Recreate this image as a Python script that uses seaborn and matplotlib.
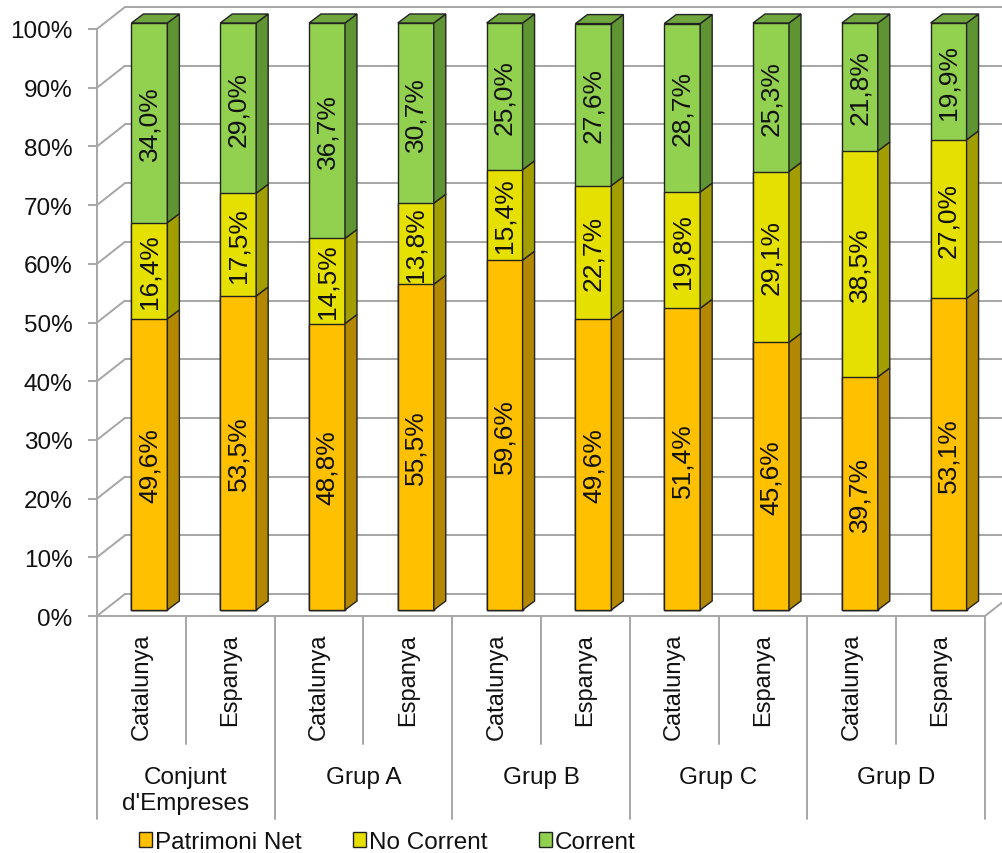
import matplotlib
matplotlib.use("Agg")
import matplotlib.pyplot as plt
import matplotlib.transforms as mtransforms
from matplotlib.patches import Polygon, Patch
from matplotlib.lines import Line2D
import numpy as np
import pandas as pd
import seaborn as sns

# ---- data -------------------------------------------------------------
groups = ["Conjunt\nd'Empreses", "Grup A", "Grup B", "Grup C", "Grup D"]
regions = ["Catalunya", "Espanya"]
patrimoni_net = [49.6, 53.5, 48.8, 55.5, 59.6, 49.6, 51.4, 45.6, 39.7, 53.1]
no_corrent = [16.4, 17.5, 14.5, 13.8, 15.4, 22.7, 19.8, 29.1, 38.5, 27.0]
corrent = [34.0, 29.0, 36.7, 30.7, 25.0, 27.6, 28.7, 25.3, 21.8, 19.9]
series_names = ["Patrimoni Net", "No Corrent", "Corrent"]
y_ticks = [0, 10, 20, 30, 40, 50, 60, 70, 80, 90, 100]

# ---- style ------------------------------------------------------------
sns.set_theme(style="white")
plt.rcParams["font.family"] = ["Liberation Sans", "DejaVu Sans"]

front_cols = ["#FFC000", "#E6E000", "#92D050"]
side_cols = ["#B38700", "#A39E00", "#5E9432"]
top_col = "#6FA63E"
edge = "#222222"
grid_col = "#A6A6A6"
txt_col = "#111111"

W, H = 1003, 854
fig = plt.figure(figsize=(W / 100, H / 100), dpi=100)


def fx(px):
    return px / W


def fy(py):
    return 1 - py / H


# front plane of the 3-D box
left_px, right_px, top_px, bot_px = 97, 985, 30, 617
ax = fig.add_axes([fx(left_px), fy(bot_px), (right_px - left_px) / W, (bot_px - top_px) / H])

n = len(patrimoni_net)
ppx = (right_px - left_px) / n        # pixels per category
ppy = (bot_px - top_px) / 1.0         # pixels per unit (100%)


def du(px):
    return px / ppx


def dv(px):
    return px / ppy


# depth offsets (pixels): back wall, bar plane, bar thickness
back_dx, back_dy = 28, 22
bar_dx, bar_dy = 8, 6
depth_dx, depth_dy = 12, 9

labels_x = [f"{g}|{r}" for g in groups for r in regions]
p = np.array(patrimoni_net) / 100
nc = np.array(no_corrent) / 100
c = np.array(corrent) / 100
df = pd.DataFrame({
    "bar": labels_x,
    "cum1": p,
    "cum2": p + nc,
    "cum3": p + nc + c,
})

bar_w = 0.405
# stacked bars drawn as overlapping cumulative totals
for col, colr in zip(["cum3", "cum2", "cum1"], front_cols[::-1]):
    sns.barplot(data=df, x="bar", y=col, color=colr, saturation=1, width=bar_w,
                edgecolor=edge, linewidth=1.0, errorbar=None, ax=ax, zorder=3)

ax.set_xlim(-0.5, n - 0.5)
ax.set_ylim(0, 1)

green_patches = list(ax.patches[:n])
for patch in ax.patches:
    patch.set_x(patch.get_x() + du(bar_dx))
    patch.set_y(patch.get_y() + dv(bar_dy))
    patch.set_clip_on(False)

# side and top faces of each bar
segments = [(np.zeros(n), p), (p, p + nc), (p + nc, p + nc + c)]
for i, gp in enumerate(green_patches):
    xl = gp.get_x()
    xr = xl + gp.get_width()
    b = gp.get_y()
    for (lo, hi), sc in zip(segments, side_cols):
        poly = Polygon([(xr, b + lo[i]), (xr + du(depth_dx), b + lo[i] + dv(depth_dy)),
                        (xr + du(depth_dx), b + hi[i] + dv(depth_dy)), (xr, b + hi[i])],
                       closed=True, facecolor=sc, edgecolor=edge, linewidth=1.0,
                       zorder=3, clip_on=False)
        ax.add_patch(poly)
    t = b + segments[2][1][i]
    top = Polygon([(xl, t), (xr, t), (xr + du(depth_dx), t + dv(depth_dy)),
                   (xl + du(depth_dx), t + dv(depth_dy))],
                  closed=True, facecolor=top_col, edgecolor=edge, linewidth=1.0,
                  zorder=3, clip_on=False)
    ax.add_patch(top)
    # value labels
    xc = xl + gp.get_width() / 2
    for (lo, hi), vals in zip(segments, [patrimoni_net, no_corrent, corrent]):
        txt = f"{vals[i]:.1f}".replace(".", ",") + "%"
        ax.text(xc, b + (lo[i] + hi[i]) / 2, txt, rotation=90, ha="center", va="center",
                fontsize=19, color=txt_col, zorder=5, clip_on=False)

# back wall gridlines, left wall and floor
for v in y_ticks:
    yv = v / 100
    ax.plot([-0.5 + du(back_dx), n - 0.5 + du(back_dx)], [yv + dv(back_dy)] * 2,
            color=grid_col, lw=1.4, zorder=0.5, clip_on=False)
    ax.plot([-0.5, -0.5 + du(back_dx)], [yv, yv + dv(back_dy)],
            color=grid_col, lw=1.4, zorder=0.5, clip_on=False)
ax.plot([n - 0.5, n - 0.5 + du(back_dx)], [0, dv(back_dy)],
        color=grid_col, lw=1.4, zorder=0.5, clip_on=False)

# axes styling
for s in ["top", "right"]:
    ax.spines[s].set_visible(False)
for s in ["left", "bottom"]:
    ax.spines[s].set_color(grid_col)
    ax.spines[s].set_linewidth(1.4)
ax.set_yticks([v / 100 for v in y_ticks])
ax.set_yticklabels([f"{v}%" for v in y_ticks])
ax.tick_params(axis="y", length=6.5, width=1.4, color=grid_col, labelsize=17.5,
               labelcolor=txt_col, pad=11, left=True)
ax.set_xticks(range(n))
ax.set_xticklabels(regions * len(groups), rotation=90, va="top", ha="center")
ax.tick_params(axis="x", length=0, labelsize=17, labelcolor=txt_col, pad=12)
ax.set_xlabel("")
ax.set_ylabel("")

# category dividers and group labels below the floor
blend = mtransforms.blended_transform_factory(ax.transData, fig.transFigure)
for g in range(len(groups) + 1):
    ax.add_line(Line2D([-0.5 + 2 * g] * 2, [fy(bot_px), fy(820)], transform=blend,
                       color=grid_col, lw=1.4, clip_on=False))
for g in range(len(groups)):
    ax.add_line(Line2D([0.5 + 2 * g] * 2, [fy(bot_px), fy(745)], transform=blend,
                       color=grid_col, lw=1.4, clip_on=False))
    ax.text(2 * g + 0.5, fy(767), groups[g], transform=blend, ha="center", va="top",
            fontsize=17.5, color=txt_col, linespacing=1.22, clip_on=False)

# legend
handles = [Patch(facecolor=fc, edgecolor=edge, linewidth=1.0) for fc in front_cols]
fig.legend(handles, series_names, loc="center left", bbox_to_anchor=(fx(139), fy(843)),
           ncol=3, frameon=False, fontsize=17.5, handlelength=0.55, handleheight=0.55,
           handletextpad=0.12, columnspacing=2.1, borderpad=0, borderaxespad=0,
           labelcolor=txt_col)

fig.savefig("out.png", dpi=100)
